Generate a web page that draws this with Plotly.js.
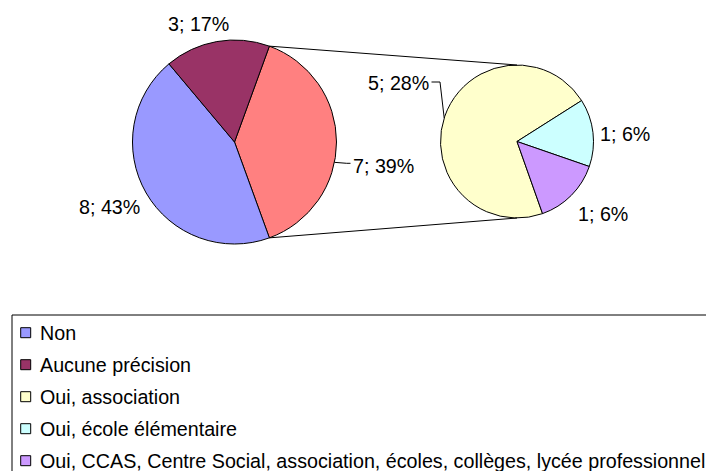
<!DOCTYPE html>
<html><head><meta charset="utf-8">
<script src="https://cdn.plot.ly/plotly-3.0.1.min.js"></script>
<style>html,body{margin:0;padding:0;background:#fff}#chart{width:706px;height:471px}</style>
</head><body><div id="chart"></div>
<script>
// ---- data ----
const mainLabels = ['Non', 'Aucune précision'];
const mainValues = [8, 3];
const mainPercents = [43, 17];
const secondaryLabels = ['Oui, association', 'Oui, école élémentaire', 'Oui, CCAS, Centre Social, association, écoles, collèges, lycée professionnel'];
const secondaryValues = [5, 1, 1];
const secondaryPercents = [28, 6, 6];
const otherLabel = 'Oui';
const otherPercent = 39;
const mainColors = ['#9999FF', '#993366'];
const otherColor = '#FF8080';
const secondaryColors = ['#FFFFCC', '#CCFFFF', '#CC99FF'];

// ---- geometry / layout helpers ----
const W = 706, H = 471;
const px = x => x / W, py = y => 1 - y / H;
const FONT = 'Liberation Sans, Arial, sans-serif';
const FS = 19.7;

const mainPie = {cx: 234.5, cy: 142, r: 102};
const secPie = {cx: 517, cy: 141.5, r: 76.5};

const otherValue = secondaryValues.reduce((a, b) => a + b, 0);
const mainTotal = otherValue + mainValues.reduce((a, b) => a + b, 0);
const otherAngle = otherValue / mainTotal * 360;
const mainRotation = 90 - otherAngle / 2;
const secRotation = 160.5;

function pt(c, deg) {
  const a = deg * Math.PI / 180;
  return [c.cx + c.r * Math.sin(a), c.cy - c.r * Math.cos(a)];
}
function dom(c) {
  return {x: [px(c.cx - c.r), px(c.cx + c.r)], y: [py(c.cy + c.r), py(c.cy - c.r)]};
}

const lineStyle = {color: '#000000', width: 1};

const traces = [
  {
    type: 'pie', sort: false, direction: 'clockwise', rotation: mainRotation,
    labels: [otherLabel].concat(mainLabels),
    values: [otherValue].concat(mainValues),
    marker: {colors: [otherColor].concat(mainColors), line: lineStyle},
    textinfo: 'none', showlegend: false, domain: dom(mainPie), hoverinfo: 'label+value+percent'
  },
  {
    type: 'pie', sort: false, direction: 'clockwise', rotation: secRotation,
    labels: secondaryLabels, values: secondaryValues,
    marker: {colors: secondaryColors, line: lineStyle},
    textinfo: 'none', showlegend: false, domain: dom(secPie), hoverinfo: 'label+value+percent'
  }
];

const shapes = [];
const annotations = [];
function seg(x0, y0, x1, y1) {
  shapes.push({type: 'line', xref: 'paper', yref: 'paper', x0: px(x0), y0: py(y0), x1: px(x1), y1: py(y1), line: lineStyle});
}
function label(text, x, y, xanchor) {
  annotations.push({xref: 'paper', yref: 'paper', x: px(x), y: py(y), xanchor: xanchor, yanchor: 'middle',
    text: text, showarrow: false, font: {family: FONT, size: FS, color: '#000'}});
}

// connector lines between the two pies
const topMain = pt(mainPie, mainRotation), botMain = pt(mainPie, mainRotation + otherAngle);
const topSec = pt(secPie, 0), botSec = pt(secPie, 180);
seg(topMain[0], topMain[1], topSec[0], topSec[1]);
seg(botMain[0], botMain[1], botSec[0], botSec[1]);

// data labels
label(mainValues[0] + '; ' + mainPercents[0] + '%', 142, 206.7, 'right');
label(mainValues[1] + '; ' + mainPercents[1] + '%', 198.5, 24, 'center');
label(otherValue + '; ' + otherPercent + '%', 350.5, 165.7, 'left');
label(secondaryValues[0] + '; ' + secondaryPercents[0] + '%', 431, 82.7, 'right');
label(secondaryValues[1] + '; ' + secondaryPercents[1] + '%', 597.5, 134, 'left');
label(secondaryValues[2] + '; ' + secondaryPercents[2] + '%', 575.5, 214, 'left');

// leader lines
const oEdge = pt(mainPie, 90 + 11.5);
seg(oEdge[0], oEdge[1], 346.7, 163.3); seg(346.7, 163.3, 350.5, 163.3);
const aEdge = pt(secPie, 270 + 17.9);
seg(431.5, 82, 440, 82); seg(440, 82, aEdge[0], aEdge[1]);

// legend
const legLabels = mainLabels.concat(secondaryLabels);
const legColors = mainColors.concat(secondaryColors);
const leg = {x: 12, y: 315, rowY: 332.7, rowH: 32};
shapes.push({type: 'rect', xref: 'paper', yref: 'paper', x0: px(leg.x), y0: py(leg.y), x1: px(W + 20), y1: py(H + 20),
  line: {color: '#000', width: 1}, fillcolor: 'rgba(0,0,0,0)'});
legLabels.forEach((lab, i) => {
  const cy = leg.rowY + i * leg.rowH;
  shapes.push({type: 'rect', xref: 'paper', yref: 'paper', x0: px(20.7), x1: px(30.7), y0: py(cy + 5), y1: py(cy - 5),
    line: {color: '#000', width: 1}, fillcolor: legColors[i]});
  label(lab, 37.5, cy, 'left');
});

const layout = {
  width: W, height: H, margin: {l: 0, r: 0, t: 0, b: 0},
  paper_bgcolor: '#fff', plot_bgcolor: '#fff', showlegend: false,
  font: {family: FONT, size: FS, color: '#000'},
  shapes: shapes, annotations: annotations
};
Plotly.newPlot('chart', traces, layout, {displayModeBar: false, staticPlot: true});
</script>
</body></html>
